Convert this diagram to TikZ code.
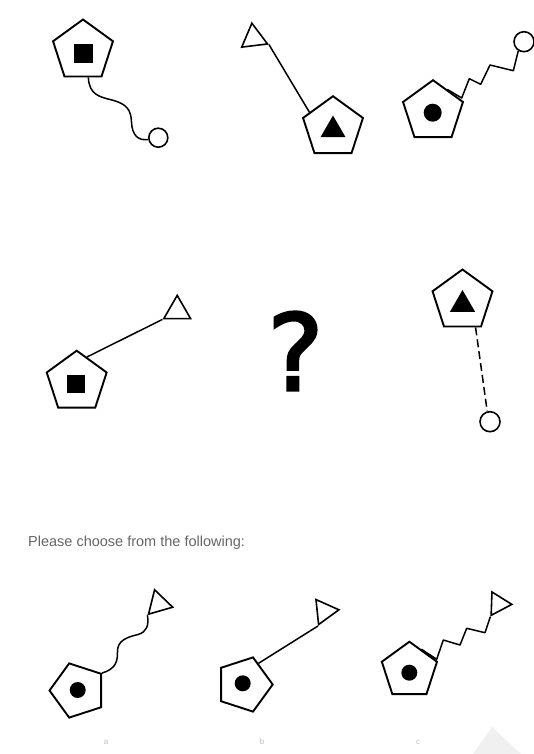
\documentclass[tikz,border=0pt]{standalone}
\usepackage{fontspec}
\setmainfont{Liberation Sans}
\newfontfamily\qfont[FakeBold=2.5]{DejaVu Sans}
\usetikzlibrary{shapes.geometric,calc}
\begin{document}
\begin{tikzpicture}[x=1pt,y=-1pt,
  pent/.style={regular polygon, regular polygon sides=5, draw=black, line width=1.9pt, inner sep=0pt, fill=white},
  otri/.style={regular polygon, regular polygon sides=3, draw=black, line width=1.6pt, inner sep=0pt},
  ftri/.style={regular polygon, regular polygon sides=3, fill=black, inner sep=0pt},
  fsq/.style={rectangle, fill=black, inner sep=0pt, minimum size=18.5pt},
  fdot/.style={circle, fill=black, inner sep=0pt},
  ocirc/.style={circle, draw=black, line width=1.6pt, inner sep=0pt, minimum size=19pt},
  link/.style={line width=1.5pt, line join=round},
  optlabel/.style={text=black!25, inner sep=0pt, font=\fontsize{8}{9}\selectfont}]
\path[fill=white] (0,0) rectangle (534,754);
\useasboundingbox (0,0) rectangle (534,754);

% faint watermark
\fill[black!6] (492,727) -- (473,754) -- (521,754) -- cycle;

% Panel 1
\node[pent, minimum size=63pt] (p1) at (83,51) {};
\node[fsq, minimum width=18.5pt, minimum height=19.5pt] (s1) at (83.5,53.3) {};
\node[ocirc] (c1) at (158.3,137.7) {};
\coordinate (e1) at ($(p1.corner 3)!0.64!(p1.corner 4)$);
\draw[link] (e1) .. controls (89,95) and (100,97) .. (112,100)
  .. controls (127,104) and (131,110) .. (131.5,122)
  .. controls (132,135) and (138,141) .. (c1.190);

% Panel 2
\node[pent, minimum size=63pt] (p2) at (333,127.7) {};
\node[ftri, minimum size=29pt] (f2) at (333,130) {};
\node[otri, minimum size=30pt, shape border rotate=7] (t2) at (253.7,38.1) {};
\coordinate (e2) at ($(p2.corner 1)!0.76!(p2.corner 2)$);
\draw[link] (t2.corner 3) -- (e2);

% Panel 3
\node[pent, minimum size=63pt] (p3) at (433,111.7) {};
\node[fdot, minimum size=18pt] (d3) at (432.7,112.7) {};
\node[ocirc, minimum size=20pt] (c3) at (524,41.7) {};
\coordinate (e3) at ($(p3.corner 1)!0.46!(p3.corner 5)$);
\draw[link] (e3) -- (461.7,98) -- (469.3,78.7) -- (480.7,84.3) -- (490,65) -- (513.3,70.7) -- (c3.238);

% Panel 4
\node[pent, minimum size=63pt] (p4) at (76.7,382.2) {};
\node[fsq] (s4) at (76,384) {};
\node[otri, minimum size=31pt] (t4) at (177.2,310.9) {};
\coordinate (e4) at ($(p4.corner 1)!0.33!(p4.corner 5)$);
\draw[link] (e4) -- (t4.corner 2);

% Question mark
\node[inner sep=0pt, font=\qfont\fontsize{106}{110}\selectfont] (q) at (295.5,351) {?};

% Panel 5
\node[pent, minimum size=63pt] (p5) at (462.5,301) {};
\node[ftri, minimum size=29pt] (f5) at (462.5,304.5) {};
\node[ocirc, minimum size=20pt] (c5) at (490,421.7) {};
\coordinate (e5) at ($(p5.corner 3)!0.84!(p5.corner 4)$);
\draw[link, dash pattern=on 8pt off 4pt] (e5) -- (c5.105);

% Prompt
\node[anchor=base west, inner sep=0pt, text=black!60, font=\fontsize{14.5}{17}\selectfont] (prompt) at (28,546.5) {Please choose from the following:};

% Option A
\node[pent, minimum size=57pt, shape border rotate=90] (pa) at (78,690.5) {};
\node[fdot, minimum size=16pt] (da) at (77.7,690) {};
\node[otri, minimum size=29pt, shape border rotate=16] (ta) at (158.6,603.7) {};
\draw[link] (pa.corner 4) .. controls (112,670) and (118,665) .. (117.5,652)
  .. controls (117,640) and (128,637) .. (138,634.5)
  .. controls (147,632) and (149,625) .. (ta.corner 2);

% Option B
\node[pent, minimum size=57pt, shape border rotate=-90] (pb) at (244.2,684.5) {};
\node[fdot, minimum size=16pt] (db) at (242.7,683.3) {};
\node[otri, minimum size=29pt, shape border rotate=36] (tb) at (324.5,611.3) {};
\coordinate (eb) at ($(pb.corner 2)!0.25!(pb.corner 1)$);
\draw[link] (eb) -- (tb.corner 2);

% Option C
\node[pent, minimum size=58pt] (pc) at (409.4,670.7) {};
\node[fdot, minimum size=16pt] (dc) at (409.3,672.7) {};
\node[otri, minimum size=27pt, shape border rotate=28] (tc) at (498.3,603.9) {};
\coordinate (ec) at ($(pc.corner 1)!0.42!(pc.corner 5)$);
\draw[link] (ec) -- (436.7,659.3) -- (443.3,640) -- (460,645) -- (466.7,628.3) -- (485,632.7) -- (tc.corner 2);

% faint option labels
\node[optlabel] (la) at (106,742) {a};
\node[optlabel] (lb) at (262,742) {b};
\node[optlabel] (lc) at (418,742) {c};
\end{tikzpicture}
\end{document}
